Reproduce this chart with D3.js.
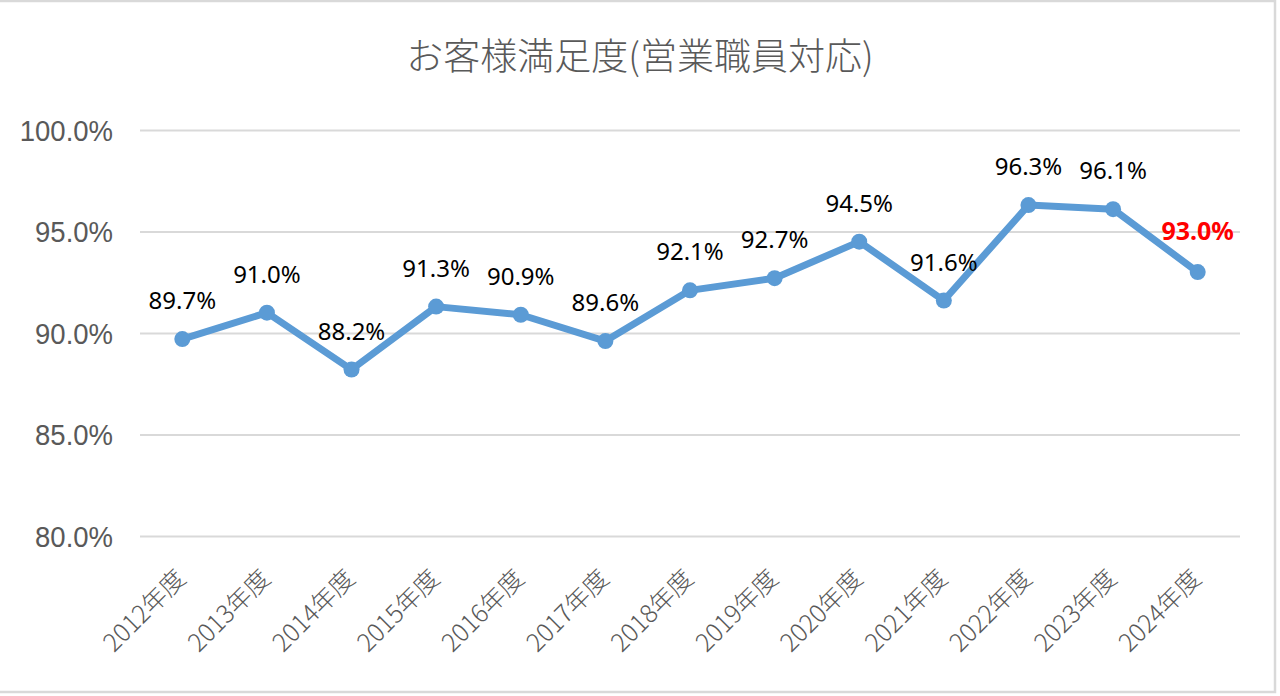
<!DOCTYPE html>
<html>
<head>
<meta charset="utf-8">
<script src="https://cdn.jsdelivr.net/npm/d3@7"></script>
<style>
  body { margin: 0; background: #fff; }
  svg text { font-family: "Noto Sans CJK JP", "Noto Sans", sans-serif; }
</style>
</head>
<body>
<div id="chart"></div>
<script>
// data
const years = ["2012年度", "2013年度", "2014年度", "2015年度", "2016年度", "2017年度", "2018年度",
               "2019年度", "2020年度", "2021年度", "2022年度", "2023年度", "2024年度"];
const satisfaction = [0.897, 0.910, 0.882, 0.913, 0.909, 0.896, 0.921, 0.927, 0.945, 0.916, 0.963, 0.961, 0.930];
const yTicks = [0.80, 0.85, 0.90, 0.95, 1.00];
const title = "お客様満足度(営業職員対応)";

const W = 1280, H = 696;
const margin = {top: 130, right: 40, bottom: 160, left: 140};

const svg = d3.select("#chart").append("svg")
  .attr("width", W)
  .attr("height", H);

// chart border
svg.append("rect")
  .attr("x", -2).attr("y", 1)
  .attr("width", 1277).attr("height", 691)
  .attr("fill", "none")
  .attr("stroke", "#d9d9d9")
  .attr("stroke-width", 2.5);

const x = d3.scaleBand()
  .domain(years)
  .range([margin.left, W - margin.right]);

const y = d3.scaleLinear()
  .domain([0.80, 1.00])
  .range([536, 130]);

const pct = d3.format(".1%");

// gridlines + y labels
svg.append("g")
  .attr("transform", "translate(" + margin.left + ",0)")
  .call(d3.axisLeft(y).tickValues(yTicks).tickFormat(pct)
    .tickSize(-(W - margin.right - margin.left)).tickPadding(27))
  .call(g => g.select(".domain").remove())
  .call(g => g.selectAll(".tick line").attr("stroke", "#d9d9d9").attr("stroke-width", 2))
  .call(g => g.selectAll(".tick text")
    .attr("fill", "#595959")
    .attr("transform", "scale(1,1.05)")
    .attr("dy", "0.36em")
    .style("font-family", "'Liberation Sans', sans-serif")
    .style("font-size", "27.5px"));

// x labels
svg.append("g")
  .selectAll("text")
  .data(years)
  .join("text")
  .attr("transform", d => "translate(" + (x(d) + x.bandwidth() / 2 + 5) + ",580) rotate(-45)")
  .attr("text-anchor", "end")
  .attr("fill", "#595959")
  .style("font-size", "25px")
  .style("font-weight", 300)
  .text(d => d);

// line
const cx = (d, i) => x(years[i]) + x.bandwidth() / 2;
svg.append("path")
  .datum(satisfaction)
  .attr("fill", "none")
  .attr("stroke", "#5b9bd5")
  .attr("stroke-width", 7)
  .attr("stroke-linejoin", "round")
  .attr("d", d3.line().x(cx).y(d => y(d)));

svg.append("g")
  .selectAll("circle")
  .data(satisfaction)
  .join("circle")
  .attr("cx", cx)
  .attr("cy", d => y(d))
  .attr("r", 8)
  .attr("fill", "#5b9bd5");

// data labels
const last = satisfaction.length - 1;
svg.append("g")
  .selectAll("text")
  .data(satisfaction)
  .join("text")
  .attr("x", cx)
  .attr("y", (d, i) => y(d) - (i === last ? 32 : 30))
  .attr("text-anchor", "middle")
  .attr("fill", (d, i) => i === last ? "#ff0000" : "#000")
  .style("font-family", "'Noto Sans', sans-serif")
  .style("font-weight", (d, i) => i === last ? "bold" : "normal")
  .style("font-size", (d, i) => i === last ? "25px" : "24px")
  .text(d => pct(d));

// title
svg.append("text")
  .attr("x", 640)
  .attr("y", 70)
  .attr("text-anchor", "middle")
  .attr("fill", "#595959")
  .style("font-size", "37px")
  .style("font-weight", 300)
  .text(title);
</script>
</body>
</html>
